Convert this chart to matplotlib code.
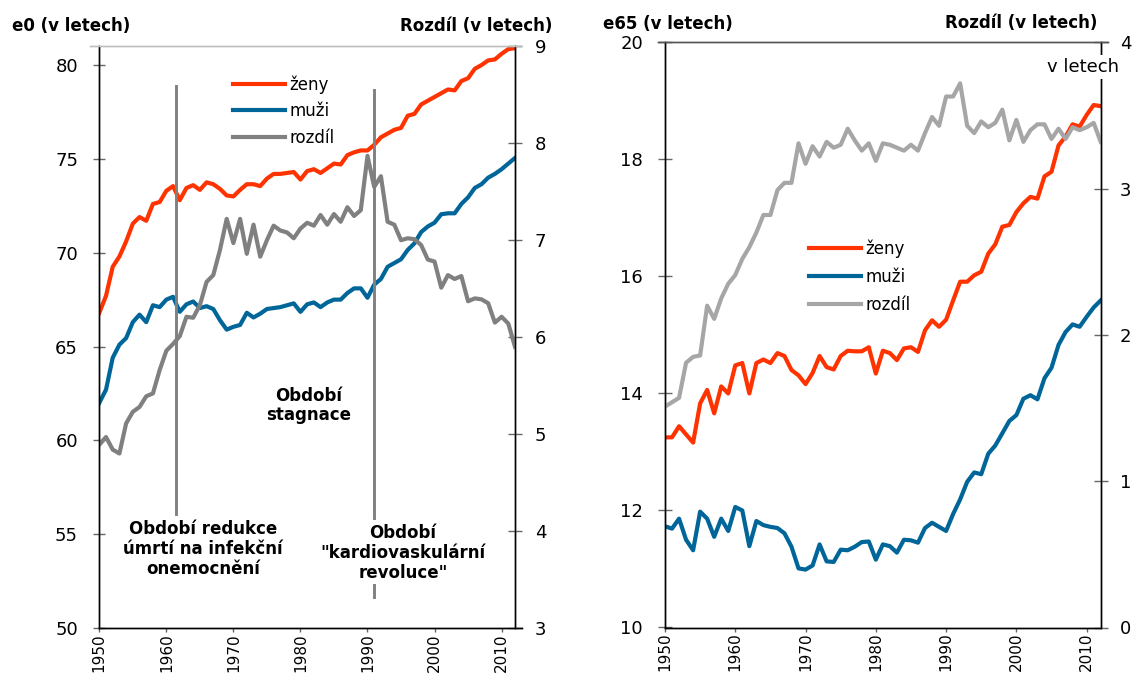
import matplotlib
matplotlib.use("Agg")
import matplotlib.pyplot as plt

# ---------------- data ----------------
years = list(range(1950, 2013))

e0_zeny = [66.8, 67.7, 69.25, 69.8, 70.6, 71.55, 71.9, 71.7, 72.6, 72.7,
           73.3, 73.55, 72.8, 73.45, 73.6, 73.35, 73.75, 73.65, 73.4, 73.05,
           73.0, 73.35, 73.65, 73.65, 73.55, 73.95, 74.2, 74.2, 74.25, 74.3,
           73.9, 74.35, 74.45, 74.25, 74.5, 74.75, 74.7, 75.2, 75.35, 75.45,
           75.45, 75.75, 76.15, 76.35, 76.55, 76.65, 77.3, 77.4, 77.9, 78.1,
           78.3, 78.5, 78.7, 78.65, 79.15, 79.3, 79.8, 80.0, 80.25, 80.3,
           80.6, 80.85, 80.9]
e0_muzi = [62.0, 62.7, 64.4, 65.1, 65.45, 66.3, 66.7, 66.3, 67.2, 67.1,
           67.5, 67.65, 66.85, 67.25, 67.4, 67.05, 67.15, 67.0, 66.4, 65.9,
           66.05, 66.15, 66.8, 66.55, 66.75, 67.0, 67.05, 67.1, 67.2, 67.3,
           66.85, 67.25, 67.35, 67.1, 67.35, 67.5, 67.5, 67.85, 68.1, 68.1,
           67.6, 68.3, 68.6, 69.25, 69.45, 69.65, 70.15, 70.5, 71.1, 71.4,
           71.6, 72.05, 72.1, 72.1, 72.6, 72.95, 73.45, 73.65, 74.0, 74.2,
           74.45, 74.75, 75.05]
e0_rozdil = [4.89, 4.97, 4.84, 4.80, 5.11, 5.23, 5.28, 5.39, 5.42, 5.66,
             5.86, 5.93, 6.01, 6.21, 6.20, 6.33, 6.57, 6.64, 6.90, 7.22,
             6.97, 7.22, 6.86, 7.16, 6.83, 7.00, 7.15, 7.10, 7.08, 7.02,
             7.12, 7.18, 7.15, 7.26, 7.16, 7.27, 7.19, 7.34, 7.25, 7.31,
             7.87, 7.55, 7.66, 7.19, 7.16, 7.00, 7.02, 7.01, 6.95, 6.80,
             6.78, 6.51, 6.64, 6.60, 6.63, 6.37, 6.40, 6.39, 6.35, 6.15,
             6.21, 6.14, 5.90]

e65_zeny = [13.25, 13.25, 13.44, 13.30, 13.16, 13.83, 14.06, 13.66, 14.12, 14.0,
            14.48, 14.52, 14.0, 14.52, 14.58, 14.52, 14.69, 14.64, 14.40, 14.31,
            14.16, 14.35, 14.64, 14.45, 14.41, 14.64, 14.73, 14.72, 14.72, 14.79,
            14.34, 14.73, 14.69, 14.57, 14.77, 14.79, 14.71, 15.08, 15.25, 15.14,
            15.26, 15.59, 15.91, 15.91, 16.02, 16.08, 16.39, 16.55, 16.85, 16.88,
            17.10, 17.25, 17.36, 17.33, 17.71, 17.79, 18.24, 18.39, 18.60, 18.56,
            18.76, 18.93, 18.91]
e65_muzi = [11.73, 11.69, 11.86, 11.50, 11.32, 11.98, 11.86, 11.55, 11.86, 11.65,
            12.06, 12.0, 11.39, 11.82, 11.75, 11.72, 11.70, 11.61, 11.38, 11.01,
            10.99, 11.06, 11.42, 11.13, 11.12, 11.33, 11.32, 11.38, 11.46, 11.47,
            11.16, 11.42, 11.39, 11.28, 11.50, 11.49, 11.45, 11.70, 11.79, 11.72,
            11.65, 11.94, 12.19, 12.49, 12.65, 12.62, 12.97, 13.11, 13.32, 13.53,
            13.63, 13.91, 13.97, 13.90, 14.26, 14.44, 14.83, 15.05, 15.18, 15.14,
            15.31, 15.47, 15.59]
e65_rozdil = [1.51, 1.54, 1.57, 1.81, 1.85, 1.86, 2.20, 2.11, 2.25, 2.35,
              2.41, 2.52, 2.60, 2.70, 2.82, 2.82, 2.99, 3.04, 3.04, 3.31,
              3.17, 3.29, 3.22, 3.32, 3.28, 3.30, 3.41, 3.33, 3.26, 3.31,
              3.19, 3.31, 3.30, 3.28, 3.26, 3.30, 3.26, 3.38, 3.49, 3.43,
              3.63, 3.63, 3.72, 3.43, 3.38, 3.46, 3.42, 3.45, 3.54, 3.33,
              3.47, 3.32, 3.40, 3.44, 3.44, 3.34, 3.41, 3.34, 3.42, 3.40,
              3.42, 3.45, 3.32]

series_labels = ["ženy", "muži", "rozdíl"]
x_ticks = [1950, 1960, 1970, 1980, 1990, 2000, 2010]
e0_ticks = [50, 55, 60, 65, 70, 75, 80]
e0_diff_ticks = [3, 4, 5, 6, 7, 8, 9]
e65_ticks = [10, 12, 14, 16, 18, 20]
e65_diff_ticks = [0, 1, 2, 3, 4]
period_years = [1961.4, 1991.0]
period_texts = ["Období redukce\númrtí na infekční\nonemocnění",
                "Období\n\"kardiovaskulární\nrevoluce\"",
                "Období\nstagnace"]

# ---------------- style ----------------
C_ZENY = "#FF3300"
C_MUZI = "#006699"
C_DIFF1 = "#808080"
C_DIFF2 = "#A6A6A6"
LW = 3.0

plt.rcParams["font.family"] = ["DejaVu Sans"]
W, H = 1134, 673
fig = plt.figure(figsize=(W / 100, H / 100), dpi=100)
fig.patch.set_facecolor("white")


def px_ax(x0, x1, ytop, ybot):
    return [x0 / W, (H - ybot) / H, (x1 - x0) / W, (ybot - ytop) / H]


def style_axes(ax, axr, top_color, top_bounds, bottom_bounds, lpad, rpad, llen, rlen):
    for a in (ax, axr):
        a.spines["left"].set_color("black")
        a.spines["right"].set_color("black")
        a.spines["bottom"].set_color("black")
        a.spines["top"].set_color(top_color)
        for s in a.spines.values():
            s.set_linewidth(1.0)
        a.spines["top"].set_bounds(*top_bounds)
        a.spines["bottom"].set_bounds(*bottom_bounds)
    ax.tick_params(axis="y", direction="inout", length=llen, width=1,
                   color="#666666", labelsize=13, pad=lpad)
    axr.tick_params(axis="y", direction="inout", length=rlen, width=1,
                    color="#666666", labelsize=13, pad=rpad)
    for a in (ax, axr):
        a.tick_params(axis="x", direction="out", length=3.2, width=1,
                      color="#666666", labelsize=11, pad=0.5, labelrotation=90)


# ---------------- left chart ----------------
ax1 = fig.add_axes(px_ax(99.3, 515.0, 46.3, 628.0))
ax1b = ax1.twinx()
ax1.set_xlim(1950, 2012)
ax1.set_ylim(50, 81)
ax1b.set_ylim(3, 9)
ax1.set_xticks(x_ticks)
ax1.set_yticks(e0_ticks)
ax1b.set_yticks(e0_diff_ticks)

h1, = ax1.plot(years, e0_zeny, color=C_ZENY, lw=LW, solid_joinstyle="round")
h2, = ax1.plot(years, e0_muzi, color=C_MUZI, lw=LW, solid_joinstyle="round")
h3, = ax1b.plot(years, e0_rozdil, color=C_DIFF1, lw=LW, solid_joinstyle="round")

ax1b.axvline(period_years[0], ymin=0.196, ymax=0.931, color="#808080", lw=2.1, zorder=5)
ax1b.axvline(period_years[1], ymin=0.189, ymax=0.925, color="#808080", lw=2.1, zorder=5)
ax1b.axvline(period_years[1], ymin=0.053, ymax=0.074, color="#808080", lw=2.1, zorder=5)

ax1.text(1965.45, 54.2, period_texts[0], ha="center", va="center",
         fontsize=12, fontweight="bold", linespacing=1.15)
ax1.text(1995.3, 54.0, period_texts[1], ha="center", va="center",
         fontsize=12, fontweight="bold", linespacing=1.15)
ax1.text(1981.2, 61.85, period_texts[2], ha="center", va="center",
         fontsize=12, fontweight="bold", linespacing=1.1)

style_axes(ax1, ax1b, "#BFBFBF", (1948.6, 2012.95), (1950, 2013.0),
           lpad=10.8, rpad=9.4, llen=9, rlen=10)

leg1 = ax1b.legend([h1, h2, h3], series_labels, loc="upper left",
                   bbox_to_anchor=(233 / W, 1 - 75 / H), bbox_transform=fig.transFigure,
                   frameon=False, fontsize=12, handlelength=3.1, handletextpad=0.3,
                   labelspacing=0.52, borderpad=0, borderaxespad=0)

# ---------------- right chart ----------------
ax2 = fig.add_axes(px_ax(665.0, 1100.7, 42.4, 627.5))
ax2b = ax2.twinx()
ax2.set_xlim(1950, 2012)
ax2.set_ylim(10, 20)
ax2b.set_ylim(0, 4)
ax2.set_xticks(x_ticks)
ax2.set_yticks(e65_ticks)
ax2b.set_yticks(e65_diff_ticks)

g1, = ax2.plot(years, e65_zeny, color=C_ZENY, lw=LW, solid_joinstyle="round")
g2, = ax2.plot(years, e65_muzi, color=C_MUZI, lw=LW, solid_joinstyle="round")
g3, = ax2b.plot(years, e65_rozdil, color=C_DIFF2, lw=LW, solid_joinstyle="round")

style_axes(ax2, ax2b, "#555555", (1949.0, 2013.05), (1950, 2012),
           lpad=10.8, rpad=8.6, llen=10, rlen=10.5)

leg2 = ax2b.legend([g1, g2, g3], series_labels, loc="upper left",
                   bbox_to_anchor=(809 / W, 1 - 239 / H), bbox_transform=fig.transFigure,
                   frameon=False, fontsize=12, handlelength=3.1, handletextpad=0.3,
                   labelspacing=0.6, borderpad=0, borderaxespad=0)

ax2b.text(1083 / W, 1 - 67 / H, "v letech", transform=fig.transFigure,
          ha="center", va="center", fontsize=13, zorder=10,
          bbox=dict(facecolor="white", edgecolor="none", pad=2.5))

# ---------------- headers ----------------
fig.text(12 / W, 1 - 26 / H, "e0 (v letech)", ha="left", va="center",
         fontsize=12, fontweight="bold")
fig.text(552 / W, 1 - 26 / H, "Rozdíl (v letech)", ha="right", va="center",
         fontsize=12, fontweight="bold")
fig.text(603 / W, 1 - 24 / H, "e65 (v letech)", ha="left", va="center",
         fontsize=12, fontweight="bold")
fig.text(1097 / W, 1 - 23 / H, "Rozdíl (v letech)", ha="right", va="center",
         fontsize=12, fontweight="bold")

fig.savefig("out.png", dpi=100, facecolor="white")
